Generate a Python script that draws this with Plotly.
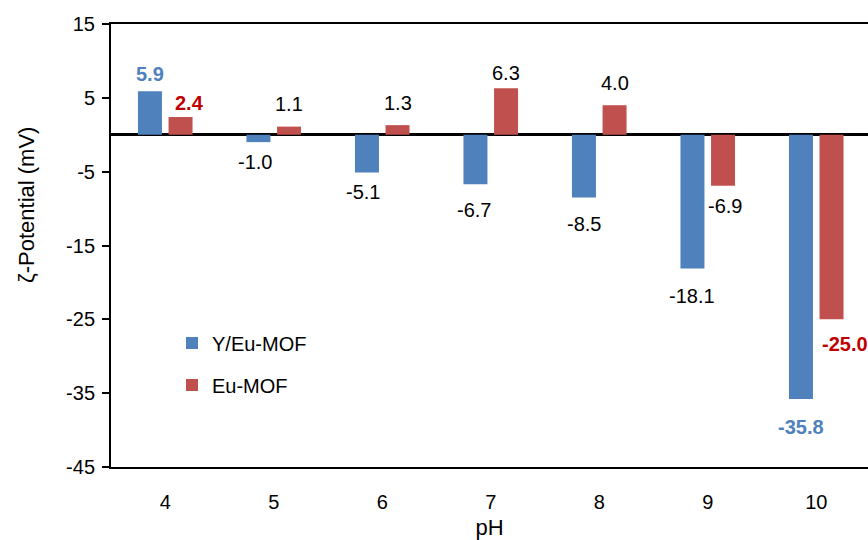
import plotly.graph_objects as go

# Zeta potential of the two MOFs across pH
ph = [4, 5, 6, 7, 8, 9, 10]
y_eu_mof = [5.9, -1.0, -5.1, -6.7, -8.5, -18.1, -35.8]
eu_mof = [2.4, 1.1, 1.3, 6.3, 4.0, -6.9, -25.0]
y_ticks = [15, 5, -5, -15, -25, -35, -45]

BLUE = "#4F81BD"
RED = "#C0504D"
FONT = "Arial, Liberation Sans, sans-serif"

# bar grouping: two bars per pH, each slot = (1 - BARGAP) / 2 of a category
BARGAP = 0.436
GROUPGAP = 0.216
half_slot = (1 - BARGAP) / 4

# label styling: distance (px) of label centre from bar end, sideways nudge, colour, weight
lab_y = dict(dy=[17, 20, 20, 26, 26, 28, 28],
             dx=[0, -3, -4, -1, 0, 0, 0],
             color=[BLUE, "black", "black", "black", "black", "black", BLUE],
             bold=[True, False, False, False, False, False, True])
lab_e = dict(dy=[14, 23, 22, 15, 22, 20, 25],
             dx=[9, 0, 0, 0, 0, 2, 13],
             color=["#C00000", "black", "black", "black", "black", "black", "#C00000"],
             bold=[True, False, False, False, False, False, True])

fig = go.Figure()
fig.add_trace(go.Bar(x=ph, y=y_eu_mof, name="Y/Eu-MOF", marker_color=BLUE,
                     marker_line_width=0, legend="legend", showlegend=True))
fig.add_trace(go.Bar(x=ph, y=eu_mof, name="Eu-MOF", marker_color=RED,
                     marker_line_width=0, legend="legend2", showlegend=True))

annotations = []
for vals, sign, lab in ((y_eu_mof, -1, lab_y), (eu_mof, 1, lab_e)):
    for i, (x, v) in enumerate(zip(ph, vals)):
        txt = f"{v:.1f}"
        if lab["bold"][i]:
            txt = f"<b>{txt}</b>"
        annotations.append(dict(
            x=x + sign * half_slot, y=v, xref="x", yref="y", text=txt,
            showarrow=False, xanchor="center", yanchor="middle",
            xshift=lab["dx"][i], yshift=lab["dy"][i] if v >= 0 else -lab["dy"][i],
            font=dict(family=FONT, size=20, color=lab["color"][i])))

W, H = 868, 540
ML, MR, MT, MB = 111, 0, 24, 73
plot_w = W - ML - MR
plot_h = H - MT - MB
px_per_unit = 108.5

# y-axis title, centred a little above the middle of the plot
annotations.append(dict(
    text="ζ-Potential (mV)", textangle=-90, showarrow=False,
    xref="paper", yref="paper", x=(27 - ML) / plot_w, y=1 - (205 - MT) / plot_h,
    xanchor="center", yanchor="middle",
    font=dict(family=FONT, size=22, color="black")))

legend_x = (172 - ML) / plot_w
fig.update_layout(
    width=W, height=H,
    margin=dict(l=ML, r=MR, t=MT, b=MB),
    paper_bgcolor="white", plot_bgcolor="white",
    barmode="group", bargap=BARGAP, bargroupgap=GROUPGAP,
    font=dict(family=FONT, size=20, color="black"),
    annotations=annotations,
    showlegend=True,
    legend=dict(visible=True, x=legend_x, y=1 - (343 - MT) / plot_h,
                xanchor="left", yanchor="middle",
                bgcolor="rgba(0,0,0,0)", font=dict(size=20)),
    legend2=dict(visible=True, x=legend_x, y=1 - (385 - MT) / plot_h,
                 xanchor="left", yanchor="middle",
                 bgcolor="rgba(0,0,0,0)", font=dict(size=20)),
)

fig.update_xaxes(
    range=[3.5, 3.5 + plot_w / px_per_unit],
    tickvals=ph, ticktext=[str(p) for p in ph],
    showgrid=False, zeroline=False,
    showline=True, linecolor="black", linewidth=2, mirror=True,
    ticks="", ticklabelstandoff=16,
    tickfont=dict(size=20),
    title=dict(text="pH", font=dict(size=22), standoff=10),
)
fig.update_yaxes(
    range=[-45, 15], tickvals=y_ticks, ticktext=[str(t) for t in y_ticks],
    showgrid=False,
    zeroline=True, zerolinecolor="black", zerolinewidth=2.5,
    showline=True, linecolor="black", linewidth=2,
    ticks="outside", ticklen=7, tickwidth=1.5, tickcolor="black",
    tickfont=dict(size=20), ticklabelstandoff=3,
)

fig.write_html("out.html")
